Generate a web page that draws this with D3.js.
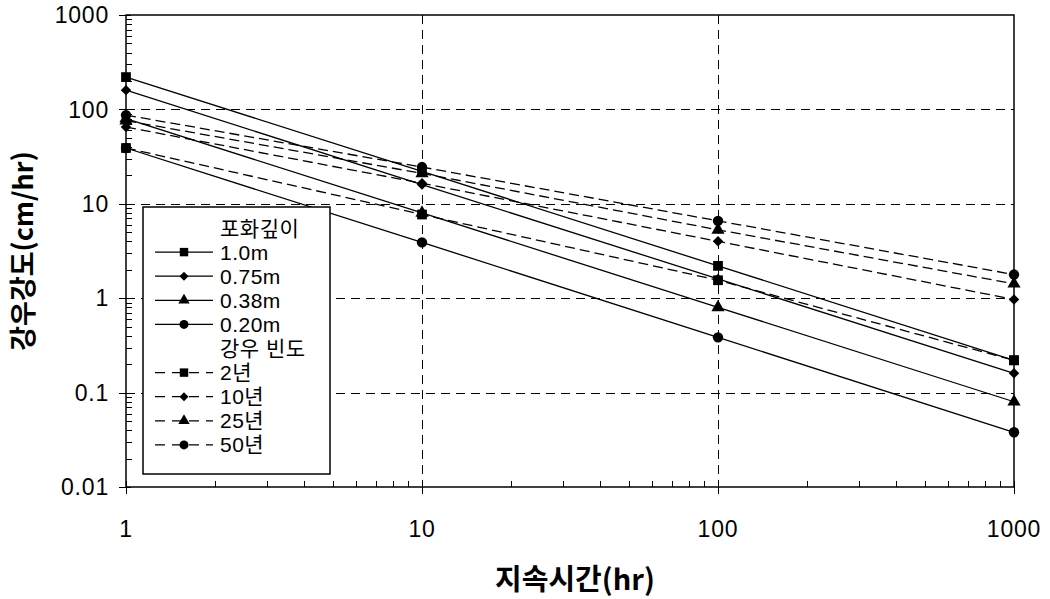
<!DOCTYPE html>
<html>
<head>
<meta charset="utf-8">
<script src="https://cdn.jsdelivr.net/npm/d3@7"></script>
<style>
  body { margin: 0; background: #fff; }
  text { font-family: "Noto Sans CJK KR", "Noto Sans", sans-serif; fill: #000; }
  .leg text, .tick-label { font-family: "Liberation Sans", "Noto Sans CJK KR", sans-serif; }
</style>
</head>
<body>
<div id="chart"></div>
<script>
// durations (hr)
const durations = [1, 10, 100, 1000];

// solid lines: saturation depth
const depthLabels = ["1.0m", "0.75m", "0.38m", "0.20m"];
const depth10 = [220, 22, 2.2, 0.22];
const depth075 = [160, 16, 1.6, 0.16];
const depth038 = [80, 8, 0.8, 0.08];
const depth020 = [39, 3.9, 0.385, 0.038];

// dashed lines: rainfall frequency
const freqLabels = ["2년", "10년", "25년", "50년"];
const freq2 = [39, 7.7, 1.55, 0.22];
const freq10 = [65, 16.5, 4.0, 0.97];
const freq25 = [76, 21, 5.3, 1.42];
const freq50 = [87, 24.5, 6.6, 1.78];

const yTicks = [0.01, 0.1, 1, 10, 100, 1000];
const xTicks = [1, 10, 100, 1000];

// square, diamond (rotated square), triangle, circle
const symbols = [d3.symbolSquare, d3.symbolSquare, d3.symbolTriangle, d3.symbolCircle];
const symRot = [0, 45, 0, 0];
const symSizes = [95, 55, 75, 85];

const series = [
    { label: depthLabels[0], values: depth10, sym: 0, dash: null },
    { label: depthLabels[1], values: depth075, sym: 1, dash: null },
    { label: depthLabels[2], values: depth038, sym: 2, dash: null },
    { label: depthLabels[3], values: depth020, sym: 3, dash: null },
    { label: freqLabels[0], values: freq2, sym: 0, dash: "10,5" },
    { label: freqLabels[1], values: freq10, sym: 1, dash: "10,5" },
    { label: freqLabels[2], values: freq25, sym: 2, dash: "10,5" },
    { label: freqLabels[3], values: freq50, sym: 3, dash: "10,5" }
];

const width = 1050;
const height = 599;
const margin = { left: 126, right: 36, top: 15, bottom: 112 };

const svg = d3.select("#chart")
    .append("svg")
    .attr("width", width)
    .attr("height", height);

const x = d3.scaleLog()
    .domain([1, 1000])
    .range([margin.left, width - margin.right]);

const y = d3.scaleLog()
    .domain([0.01, 1000])
    .range([height - margin.bottom, margin.top]);

const x0 = x.range()[0], x1 = x.range()[1];
const y0 = y.range()[0], y1 = y.range()[1];

// grid (major decades only)
const grid = svg.append("g")
    .attr("stroke", "#000")
    .attr("stroke-width", 1)
    .attr("stroke-dasharray", "9,6");

grid.selectAll("line.h")
    .data(yTicks.slice(1, -1))
    .join("line")
    .attr("x1", x0).attr("x2", x1)
    .attr("y1", d => Math.round(y(d)) + 0.5)
    .attr("y2", d => Math.round(y(d)) + 0.5);

grid.selectAll("line.v")
    .data(xTicks.slice(1, -1))
    .join("line")
    .attr("x1", d => Math.round(x(d)) + 0.5)
    .attr("x2", d => Math.round(x(d)) + 0.5)
    .attr("y1", y1).attr("y2", y0);

// frame
svg.append("rect")
    .attr("x", x0).attr("y", y1)
    .attr("width", x1 - x0).attr("height", y0 - y1)
    .attr("fill", "none")
    .attr("stroke", "#000")
    .attr("stroke-width", 1.5);

// minor ticks
const yMinor = [];
const xMinor = [];
for (let e = -2; e < 3; e++) for (let m = 2; m < 10; m++) yMinor.push(m * Math.pow(10, e));
for (let e = 0; e < 3; e++) for (let m = 2; m < 10; m++) xMinor.push(m * Math.pow(10, e));

const ticks = svg.append("g").attr("stroke", "#000").attr("stroke-width", 1);

ticks.selectAll("line.ym")
    .data(yMinor)
    .join("line")
    .attr("x1", x0).attr("x2", x0 + 6)
    .attr("y1", d => Math.round(y(d)) + 0.5)
    .attr("y2", d => Math.round(y(d)) + 0.5);

ticks.selectAll("line.yM")
    .data(yTicks)
    .join("line")
    .attr("x1", x0 - 7).attr("x2", x0 + 5)
    .attr("y1", d => Math.round(y(d)) + 0.5)
    .attr("y2", d => Math.round(y(d)) + 0.5);

ticks.selectAll("line.xm")
    .data(xMinor)
    .join("line")
    .attr("y1", y0).attr("y2", y0 - 6)
    .attr("x1", d => Math.round(x(d)) + 0.5)
    .attr("x2", d => Math.round(x(d)) + 0.5);

ticks.selectAll("line.xM")
    .data(xTicks)
    .join("line")
    .attr("y1", y0 - 6).attr("y2", y0 + 7)
    .attr("x1", d => Math.round(x(d)) + 0.5)
    .attr("x2", d => Math.round(x(d)) + 0.5);

// tick labels
svg.append("g").selectAll("text")
    .data(yTicks)
    .join("text")
    .attr("class", "tick-label")
    .attr("x", x0 - 17)
    .attr("y", d => y(d))
    .attr("dy", "0.36em")
    .attr("text-anchor", "end")
    .attr("font-size", 23)
    .attr("letter-spacing", 0.8)
    .text(d => d3.format("~g")(d));

svg.append("g").selectAll("text")
    .data(xTicks)
    .join("text")
    .attr("class", "tick-label")
    .attr("x", d => x(d))
    .attr("y", y0 + 50)
    .attr("text-anchor", "middle")
    .attr("font-size", 23)
    .attr("letter-spacing", 0.8)
    .text(d => d3.format("~g")(d));

// axis titles
svg.append("text")
    .attr("x", 575)
    .attr("y", 590)
    .attr("text-anchor", "middle")
    .attr("font-size", 29)
    .attr("font-weight", "bold")
    .text("지속시간(hr)");

svg.append("text")
    .attr("transform", `translate(33,${(y0 + y1) / 2}) rotate(-90)`)
    .attr("text-anchor", "middle")
    .attr("font-size", 27)
    .attr("font-weight", "bold")
    .text("강우강도(cm/hr)");

// lines
const line = d3.line()
    .x((d, i) => x(durations[i]))
    .y(d => y(d));

const lines = svg.append("g");
series.forEach(s => {
    lines.append("path")
        .datum(s.values)
        .attr("d", line)
        .attr("fill", "none")
        .attr("stroke", "#000")
        .attr("stroke-width", 1.3)
        .attr("stroke-dasharray", s.dash);
});

// markers (dashed first, solid on top)
const marks = svg.append("g");
series.slice().reverse().forEach(s => {
    marks.selectAll(null)
        .data(s.values)
        .join("path")
        .attr("transform", (d, i) => `translate(${x(durations[i])},${y(d)}) rotate(${symRot[s.sym]})`)
        .attr("d", d3.symbol().type(symbols[s.sym]).size(symSizes[s.sym]))
        .attr("fill", "#000");
});

// legend
const lg = svg.append("g").attr("class", "leg").attr("transform", "translate(143,207)");
lg.append("rect")
    .attr("width", 187)
    .attr("height", 267)
    .attr("fill", "#fff")
    .attr("stroke", "#000")
    .attr("stroke-width", 1.5);

const rowH = 24.1;
const legendRows = [
    { title: "포화깊이" },
    series[0], series[1], series[2], series[3],
    { title: "강우 빈도" },
    series[4], series[5], series[6], series[7]
];

legendRows.forEach((r, i) => {
    const cy = 21 + i * rowH;
    if (r.title) {
        lg.append("text")
            .attr("x", 77).attr("y", cy)
            .attr("dy", "0.36em")
            .attr("font-size", 21)
            .attr("letter-spacing", 0.5)
            .text(r.title);
        return;
    }
    lg.append("line")
        .attr("x1", 12).attr("x2", 70)
        .attr("y1", cy).attr("y2", cy)
        .attr("stroke", "#000")
        .attr("stroke-width", 1.3)
        .attr("stroke-dasharray", r.dash ? "10,7" : null);
    lg.append("path")
        .attr("transform", `translate(41,${cy}) rotate(${symRot[r.sym]})`)
        .attr("d", d3.symbol().type(symbols[r.sym]).size(symSizes[r.sym] * 0.75))
        .attr("fill", "#000");
    lg.append("text")
        .attr("x", 77).attr("y", cy)
        .attr("dy", "0.36em")
        .attr("font-size", 21)
        .attr("letter-spacing", 0.5)
        .text(r.label);
});
</script>
</body>
</html>
